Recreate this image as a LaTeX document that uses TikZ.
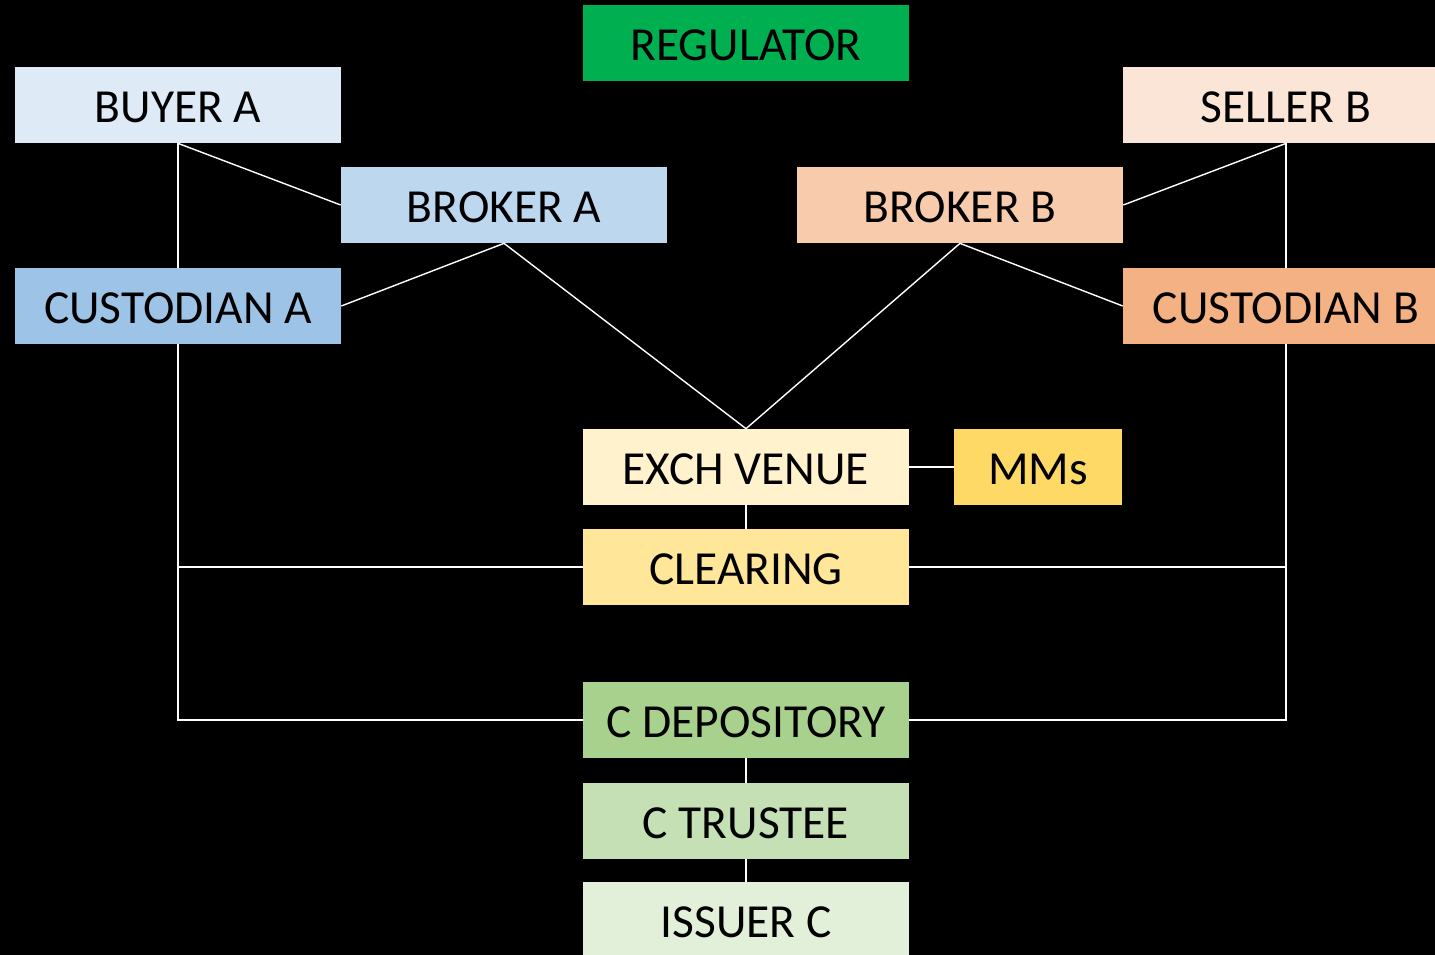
\documentclass[tikz,border=0pt]{standalone}
\usepackage{fontspec}
\setmainfont{Carlito}
\usetikzlibrary{calc,positioning}

\definecolor{regGreen}{HTML}{00B050}
\definecolor{buyA}{HTML}{DEEBF7}
\definecolor{brkA}{HTML}{BDD7EE}
\definecolor{cusA}{HTML}{9DC3E6}
\definecolor{sellB}{HTML}{FBE5D6}
\definecolor{brkB}{HTML}{F8CBAD}
\definecolor{cusB}{HTML}{F4B183}
\definecolor{venue}{HTML}{FFF2CC}
\definecolor{mms}{HTML}{FFD966}
\definecolor{clear}{HTML}{FFE699}
\definecolor{depo}{HTML}{A9D18E}
\definecolor{trust}{HTML}{C5E0B4}
\definecolor{issue}{HTML}{E2F0D9}

\tikzset{
  party/.style={rectangle, fill=#1, minimum width=6.52cm, minimum height=1.52cm,
    inner sep=0pt, text=black, text height=0.69cm, text depth=0pt,
    font=\fontsize{27}{30}\selectfont},
  link/.style={draw=white, line width=0.8pt}
}

\begin{document}
\begin{tikzpicture}[x=0.02cm,y=-0.02cm]

\fill[black] (0,0) rectangle (1435,955);
\useasboundingbox (0,0) rectangle (1435,955);
\clip (0,0) rectangle (1435,955);

% side A
\node[party=buyA] (buyerA) at (178,105) {BUYER A};
\node[party=brkA] (brokerA) at (504,205) {BROKER A};
\node[party=cusA] (custA) at (178,306) {CUSTODIAN A};

% side B
\node[party=sellB] (sellerB) at (1286,105) {SELLER B};
\node[party=brkB] (brokerB) at (960,205) {BROKER B};
\node[party=cusB] (custB) at (1286,306) {CUSTODIAN B};

% middle column
\node[party=regGreen] (reg) at (746,43.5) {REGULATOR};
\node[party=venue] (exch) at (746,467) {EXCH VENUE};
\node[party=mms, minimum width=3.36cm] (mm) at (1038,467) {MMs};
\node[party=clear] (clr) at (746,567) {CLEARING};
\node[party=depo] (dep) at (746,720) {C DEPOSITORY};
\node[party=trust] (trs) at (746,821) {C TRUSTEE};
\node[party=issue] (iss) at (746,920) {ISSUER C};

\draw[link] (buyerA.south) -- (brokerA.west);
\draw[link] (buyerA.south) -- (custA.north);
\draw[link] (custA.east) -- (brokerA.south);
\draw[link] (brokerA.south) -- (exch.north);

\draw[link] (sellerB.south) -- (brokerB.east);
\draw[link] (sellerB.south) -- (custB.north);
\draw[link] (custB.west) -- (brokerB.south);
\draw[link] (brokerB.south) -- (exch.north);

\draw[link] (exch.east) -- (mm.west);
\draw[link] (exch.south) -- (clr.north);

%custodians down to clearing and depository
\draw[link] (custA.south) |- (dep.west);
\draw[link] (clr.west) -- (clr.west -| custA.south);
\draw[link] (custB.south) |- (dep.east);
\draw[link] (clr.east) -- (clr.east -| custB.south);

\draw[link] (dep.south) -- (trs.north);
\draw[link] (trs.south) -- (iss.north);

\end{tikzpicture}
\end{document}
